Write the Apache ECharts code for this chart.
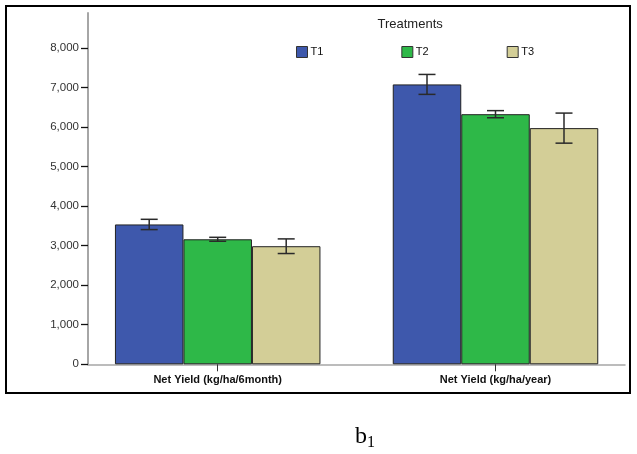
<!DOCTYPE html>
<html>
<head>
<meta charset="utf-8">
<script src="https://cdn.jsdelivr.net/npm/echarts@6/dist/echarts.min.js"></script>
<style>
  html, body { margin: 0; padding: 0; background: #fff; }
  #frame { position: absolute; left: 5px; top: 5px; width: 622px; height: 385px; border: 2px solid #000; }
  #chart { position: absolute; left: 0; top: 0; width: 637px; height: 454px; }
  #cap { position: absolute; left: 355px; top: 423px; font-family: "Liberation Serif", serif; font-size: 24px; line-height: 24px; color: #000; white-space: nowrap; }
  #cap span { font-size: 16px; position: relative; top: 4px; }
</style>
</head>
<body>
<div id="frame"></div>
<div id="chart"></div>
<div id="cap">b<span>1</span></div>
<script>
const categories = ['Net Yield (kg/ha/6month)', 'Net Yield (kg/ha/year)'];
const treatments = ['T1', 'T2', 'T3'];
const t1Values = [3535, 7075];
const t1Errors = [130, 252];
const t2Values = [3160, 6322];
const t2Errors = [50, 90];
const t3Values = [2985, 5970];
const t3Errors = [185, 380];
const yTicks = [0, 1000, 2000, 3000, 4000, 5000, 6000, 7000, 8000];

const colors = ['#3E58AC', '#2EB848', '#D3CE97'];
const values = [t1Values, t2Values, t3Values];
const errors = [t1Errors, t2Errors, t3Errors];
const BAR_W = 68.5;
const Y_MAX = 8880;

const chart = echarts.init(document.getElementById('chart'), null, { renderer: 'canvas' });

function errRender(k) {
  return function (params, api) {
    const c = api.value(0);
    const pLo = api.coord([c, api.value(1)]);
    const pHi = api.coord([c, api.value(2)]);
    const x = pLo[0] + (k - 1) * BAR_W;
    const half = 8.5;
    const style = { stroke: '#2a2a2a', lineWidth: 1.5 };
    return {
      type: 'group',
      children: [
        { type: 'line', shape: { x1: x, y1: pLo[1], x2: x, y2: pHi[1] }, style },
        { type: 'line', shape: { x1: x - half, y1: pLo[1], x2: x + half, y2: pLo[1] }, style },
        { type: 'line', shape: { x1: x - half, y1: pHi[1], x2: x + half, y2: pHi[1] }, style }
      ]
    };
  };
}

const series = [];
treatments.forEach((t, k) => {
  series.push({
    name: t,
    type: 'bar',
    xAxisIndex: 1,
    yAxisIndex: 1,
    data: values[k],
    barWidth: BAR_W,
    barGap: '0%',
    itemStyle: { color: colors[k], borderColor: '#222', borderWidth: 1 },
    emphasis: { disabled: true },
    animation: false
  });
});
treatments.forEach((t, k) => {
  series.push({
    type: 'custom',
    xAxisIndex: 1,
    yAxisIndex: 1,
    z: 10,
    renderItem: errRender(k),
    data: values[k].map((v, i) => [i, v - errors[k][i], v + errors[k][i]]),
    animation: false,
    silent: true
  });
});

const option = {
  backgroundColor: 'transparent',
  animation: false,
  textStyle: { fontFamily: 'Liberation Sans, Arial, sans-serif' },
  graphic: [{
    type: 'text',
    left: 411.5 - 34,
    top: 18,
    style: { text: 'Treatments', fontSize: 13, fill: '#222', fontFamily: 'Liberation Sans, Arial, sans-serif' }
  }],
  legend: {
    data: treatments,
    left: 291,
    top: 41,
    itemWidth: 11,
    itemHeight: 11,
    itemGap: 78,
    icon: 'rect',
    selectedMode: false,
    itemStyle: { borderColor: '#333', borderWidth: 1 },
    textStyle: { fontSize: 11, color: '#111', padding: [0, 0, 0, -2] }
  },
  grid: [
    { left: 88, top: 13, right: 12, bottom: 89.7 },
    { left: 78.8, top: 13, width: 555.6, bottom: 89.7 }
  ],
  xAxis: [
    {
      type: 'value', gridIndex: 0, min: 0, max: 1,
      axisLine: { show: true, lineStyle: { color: '#a6a6a6', width: 1.5 } },
      axisTick: { show: false }, axisLabel: { show: false }, splitLine: { show: false }
    },
    {
      type: 'category', gridIndex: 1, data: categories,
      axisLine: { show: false },
      axisTick: { show: true, alignWithLabel: true, length: 7, lineStyle: { color: '#333', width: 1 } },
      axisLabel: { fontSize: 11, fontWeight: 'bold', color: '#111', margin: 10 },
      splitLine: { show: false }
    }
  ],
  yAxis: [
    {
      type: 'value', gridIndex: 0, min: 0, max: Y_MAX,
      axisLine: { show: true, lineStyle: { color: '#a6a6a6', width: 2 } },
      axisTick: { show: true, length: 7, customValues: yTicks, lineStyle: { color: '#111', width: 1.3 } },
      axisLabel: {
        fontSize: 11.5, color: '#333', margin: 9, customValues: yTicks,
        formatter: v => v.toLocaleString('en-US')
      },
      splitLine: { show: false }
    },
    {
      type: 'value', gridIndex: 1, min: 0, max: Y_MAX, show: false,
      splitLine: { show: false }
    }
  ],
  series
};
chart.setOption(option);
</script>
</body>
</html>
